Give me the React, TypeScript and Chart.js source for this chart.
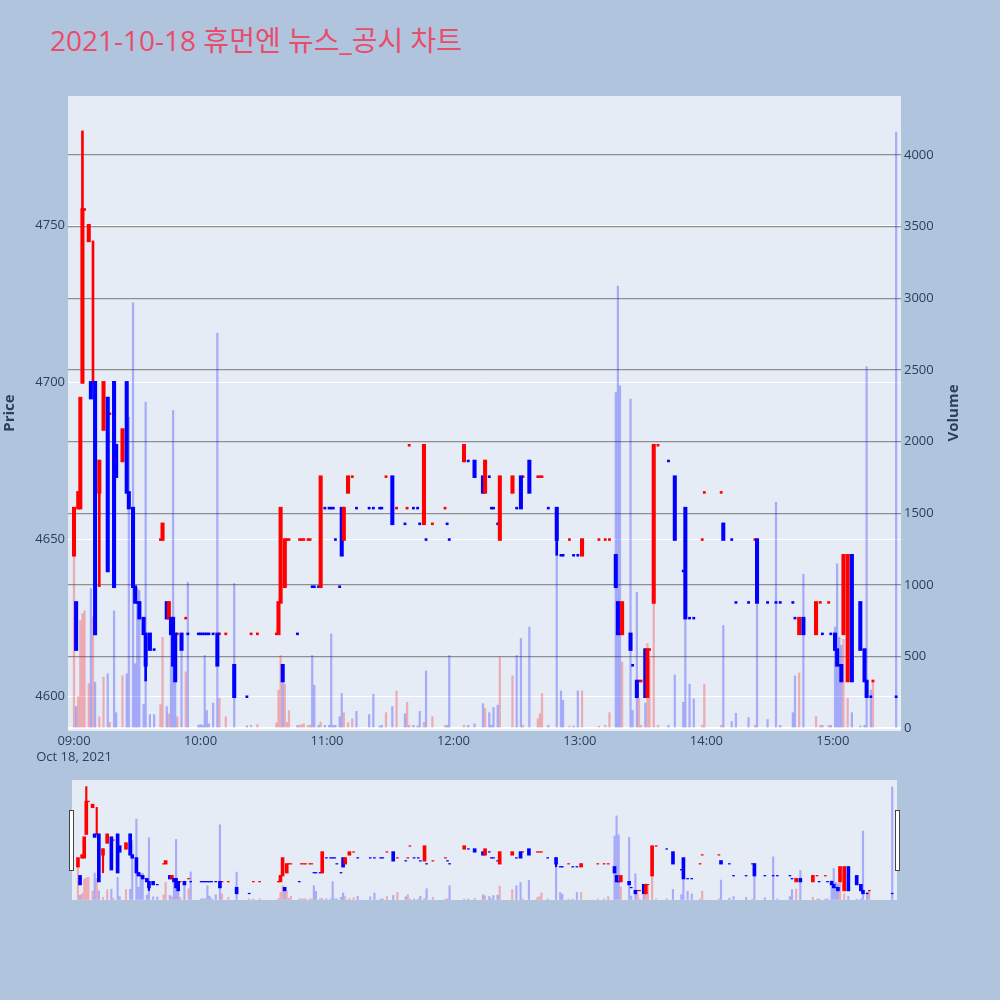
import React, { useEffect, useRef } from "react";
import { Chart, registerables } from "chart.js";

Chart.register(...registerables);

const TITLE = "2021-10-18 휴먼엔 뉴스_공시 차트";
const DATE_LABEL = "Oct 18, 2021";
const TIME_TICKS = [0, 60, 120, 180, 240, 300, 360];
const TIME_LABELS = ["09:00", "10:00", "11:00", "12:00", "13:00", "14:00", "15:00"];
const PRICE_TICKS = [4600, 4650, 4700, 4750];
const VOLUME_TICKS = [0, 500, 1000, 1500, 2000, 2500, 3000, 3500, 4000];

// minutes after 09:00
const minutes = [
  0, 1, 2, 3, 4, 5, 7, 8, 9, 10,
  12, 14, 16, 17, 19, 20, 23, 25, 26, 28,
  29, 30, 31, 33, 34, 36, 38, 41, 42, 44,
  45, 46, 47, 48, 49, 51, 53, 54, 59, 60,
  61, 62, 63, 64, 66, 68, 69, 72, 76, 82,
  84, 87, 96, 97, 98, 99, 100, 101, 102, 106,
  107, 108, 109, 111, 112, 113, 114, 116, 117, 119,
  121, 122, 123, 124, 126, 127, 128, 130, 132, 134,
  140, 142, 145, 146, 148, 151, 153, 157, 158, 159,
  161, 163, 164, 166, 167, 170, 176, 177, 178, 185,
  187, 190, 194, 195, 197, 198, 199, 201, 202, 208,
  210, 212, 213, 216, 220, 221, 222, 225, 229, 231,
  232, 235, 237, 239, 241, 249, 252, 254, 257, 258,
  259, 260, 264, 265, 267, 268, 269, 271, 272, 273,
  275, 277, 282, 285, 289, 290, 292, 294, 298, 299,
  307, 308, 312, 314, 320, 323, 324, 329, 333, 335,
  341, 342, 344, 346, 352, 354, 355, 358, 359, 361,
  362, 363, 364, 365, 367, 369, 373, 375, 376, 378,
  379, 390,
];

const opens = [
  4645, 4630, 4660, 4660, 4700, 4755, 4745, 4700, 4700, 4700,
  4665, 4685, 4695, 4690, 4700, 4680, 4675, 4700, 4665, 4660,
  4635, 4630, 4630, 4625, 4620, 4620, 4615, 4650, 4650, 4630,
  4625, 4625, 4625, 4620, 4620, 4620, 4625, 4620, 4620, 4620,
  4620, 4620, 4620, 4620, 4620, 4620, 4620, 4620, 4610, 4600,
  4620, 4620, 4620, 4620, 4630, 4610, 4635, 4650, 4650, 4620,
  4650, 4650, 4650, 4650, 4650, 4635, 4635, 4635, 4635, 4660,
  4660, 4660, 4660, 4650, 4635, 4660, 4650, 4665, 4670, 4660,
  4660, 4660, 4660, 4660, 4670, 4670, 4660, 4655, 4660, 4680,
  4660, 4660, 4655, 4655, 4650, 4655, 4660, 4655, 4650, 4675,
  4675, 4675, 4670, 4665, 4670, 4660, 4660, 4655, 4650, 4665,
  4660, 4670, 4670, 4675, 4670, 4670, 4670, 4660, 4660, 4645,
  4645, 4650, 4645, 4645, 4645, 4650, 4650, 4650, 4645, 4630,
  4620, 4620, 4620, 4610, 4605, 4605, 4605, 4615, 4600, 4615,
  4630, 4680, 4675, 4670, 4640, 4660, 4625, 4625, 4650, 4665,
  4665, 4655, 4650, 4630, 4630, 4650, 4650, 4630, 4630, 4630,
  4630, 4625, 4620, 4625, 4620, 4630, 4620, 4630, 4620, 4620,
  4615, 4610, 4610, 4620, 4605, 4645, 4630, 4615, 4605, 4600,
  4605, 4600,
];

const closes = [
  4660, 4615, 4665, 4695, 4755, 4755, 4750, 4695, 4700, 4620,
  4675, 4700, 4640, 4690, 4635, 4670, 4685, 4665, 4660, 4635,
  4630, 4630, 4625, 4620, 4610, 4615, 4615, 4650, 4655, 4625,
  4630, 4620, 4610, 4605, 4620, 4615, 4625, 4620, 4620, 4620,
  4620, 4620, 4620, 4620, 4620, 4610, 4620, 4620, 4600, 4600,
  4620, 4620, 4620, 4630, 4660, 4605, 4650, 4650, 4650, 4620,
  4650, 4650, 4650, 4650, 4650, 4635, 4635, 4635, 4670, 4660,
  4660, 4660, 4660, 4650, 4635, 4645, 4660, 4670, 4670, 4660,
  4660, 4660, 4660, 4660, 4670, 4655, 4660, 4655, 4660, 4680,
  4660, 4660, 4655, 4680, 4650, 4655, 4660, 4655, 4650, 4680,
  4675, 4670, 4665, 4675, 4670, 4660, 4660, 4655, 4670, 4670,
  4660, 4660, 4670, 4665, 4670, 4670, 4670, 4660, 4650, 4645,
  4645, 4650, 4645, 4645, 4650, 4650, 4650, 4650, 4635, 4620,
  4620, 4630, 4615, 4610, 4600, 4605, 4605, 4600, 4615, 4615,
  4680, 4680, 4675, 4650, 4640, 4625, 4625, 4625, 4650, 4665,
  4665, 4650, 4650, 4630, 4630, 4650, 4630, 4630, 4630, 4630,
  4630, 4625, 4625, 4620, 4630, 4630, 4620, 4630, 4620, 4615,
  4610, 4610, 4605, 4645, 4645, 4605, 4615, 4605, 4600, 4600,
  4605, 4600,
];

const highs = [
  4660, 4630, 4665, 4695, 4780, 4755, 4750, 4700, 4745, 4700,
  4675, 4700, 4695, 4690, 4700, 4680, 4685, 4700, 4665, 4660,
  4635, 4630, 4630, 4625, 4620, 4620, 4615, 4650, 4655, 4630,
  4630, 4625, 4625, 4620, 4620, 4620, 4625, 4620, 4620, 4620,
  4620, 4620, 4620, 4620, 4620, 4620, 4620, 4620, 4610, 4600,
  4620, 4620, 4620, 4630, 4660, 4610, 4650, 4650, 4650, 4620,
  4650, 4650, 4650, 4650, 4650, 4635, 4635, 4635, 4670, 4660,
  4660, 4660, 4660, 4650, 4635, 4660, 4660, 4670, 4670, 4660,
  4660, 4660, 4660, 4660, 4670, 4670, 4660, 4655, 4660, 4680,
  4660, 4660, 4655, 4680, 4650, 4655, 4660, 4655, 4650, 4680,
  4675, 4675, 4670, 4675, 4670, 4660, 4660, 4655, 4670, 4670,
  4660, 4670, 4670, 4675, 4670, 4670, 4670, 4660, 4660, 4645,
  4645, 4650, 4645, 4645, 4650, 4650, 4650, 4650, 4645, 4630,
  4620, 4630, 4620, 4610, 4605, 4605, 4605, 4615, 4615, 4615,
  4680, 4680, 4675, 4670, 4640, 4660, 4625, 4625, 4650, 4665,
  4665, 4655, 4650, 4630, 4630, 4650, 4650, 4630, 4630, 4630,
  4630, 4625, 4625, 4625, 4630, 4630, 4620, 4630, 4620, 4620,
  4615, 4610, 4610, 4645, 4645, 4645, 4630, 4615, 4605, 4600,
  4605, 4600,
];

const lows = [
  4645, 4615, 4660, 4660, 4700, 4755, 4745, 4695, 4700, 4620,
  4635, 4685, 4640, 4690, 4635, 4670, 4675, 4665, 4660, 4635,
  4630, 4630, 4625, 4620, 4605, 4615, 4615, 4650, 4650, 4625,
  4625, 4620, 4610, 4605, 4620, 4615, 4625, 4620, 4620, 4620,
  4620, 4620, 4620, 4620, 4620, 4610, 4620, 4620, 4600, 4600,
  4620, 4620, 4620, 4620, 4630, 4605, 4635, 4650, 4650, 4620,
  4650, 4650, 4650, 4650, 4650, 4635, 4635, 4635, 4635, 4660,
  4660, 4660, 4660, 4650, 4635, 4645, 4650, 4665, 4670, 4660,
  4660, 4660, 4660, 4660, 4670, 4655, 4660, 4655, 4660, 4680,
  4660, 4660, 4655, 4655, 4650, 4655, 4660, 4655, 4650, 4675,
  4675, 4670, 4665, 4665, 4670, 4660, 4660, 4655, 4650, 4665,
  4660, 4660, 4670, 4665, 4670, 4670, 4670, 4660, 4645, 4645,
  4645, 4650, 4645, 4645, 4645, 4650, 4650, 4650, 4635, 4620,
  4620, 4620, 4615, 4610, 4600, 4605, 4605, 4600, 4600, 4615,
  4630, 4680, 4675, 4650, 4640, 4625, 4625, 4625, 4650, 4665,
  4665, 4650, 4650, 4630, 4630, 4650, 4630, 4630, 4630, 4630,
  4630, 4625, 4620, 4620, 4620, 4630, 4620, 4630, 4620, 4615,
  4610, 4610, 4605, 4620, 4605, 4605, 4615, 4605, 4600, 4600,
  4605, 4600,
];

const volumes = [
  1300, 150, 220, 750, 800, 820, 310, 975, 776, 320,
  80, 356, 379, 40, 819, 108, 365, 379, 2170, 2968,
  450, 975, 961, 165, 2275, 94, 94, 165, 634, 150,
  100, 696, 2216, 465, 80, 535, 393, 1017, 20, 25,
  20, 507, 123, 30, 174, 2757, 208, 80, 1009, 17,
  20, 25, 37, 265, 507, 416, 308, 40, 123, 20,
  20, 25, 31, 20, 20, 507, 300, 20, 43, 20,
  20, 657, 20, 20, 80, 242, 108, 37, 65, 117,
  94, 237, 15, 20, 108, 151, 260, 100, 180, 20,
  20, 15, 117, 40, 399, 80, 20, 20, 507, 20,
  20, 30, 171, 137, 108, 20, 145, 160, 493, 365,
  507, 626, 20, 705, 65, 100, 242, 20, 1300, 260,
  194, 15, 15, 260, 260, 15, 20, 108, 2342, 3084,
  2389, 461, 2296, 125, 948, 209, 20, 174, 591, 484,
  878, 20, 20, 371, 181, 770, 307, 204, 20, 307,
  20, 716, 46, 104, 74, 20, 875, 60, 1576, 20,
  108, 365, 385, 1074, 80, 20, 20, 20, 20, 705,
  1146, 634, 578, 620, 208, 108, 15, 20, 2523, 265,
  336, 4160,
];

const X_MIN = -2.85;
const X_MAX = 392.3;
const P_MIN = 4589.1;
const P_MAX = 4791.1;
const V_MIN = -20;
const V_MAX = 4411;

const UP = "#ff0000";
const DOWN = "#0000ff";
const UP_VOL = "rgba(255,0,0,0.27)";
const DOWN_VOL = "rgba(0,0,255,0.27)";
const TEXT = "#2a3f5f";
const PLOT_BG = "#E5ECF6";
const PAGE_BG = "#B0C4DE";
const FONT = '"Open Sans", "Noto Sans CJK KR", sans-serif';

function directions(): boolean[] {
  const out: boolean[] = [];
  let prevClose = NaN;
  let prevUp = true;
  for (let i = 0; i < minutes.length; i++) {
    const o = opens[i];
    const c = closes[i];
    let up: boolean;
    if (c > o) up = true;
    else if (c < o) up = false;
    else if (isNaN(prevClose)) up = true;
    else if (c > prevClose) up = true;
    else if (c < prevClose) up = false;
    else up = prevUp;
    out.push(up);
    prevUp = up;
    prevClose = c;
  }
  return out;
}

function buildDatasets(bodyW: number, dojiW: number, wickW: number, volW: number, pad: number): any[] {
  const up = directions();
  const all = minutes.map((_, i) => i);
  const bodyIdx = all.filter((i) => opens[i] !== closes[i]);
  const dojiIdx = all.filter((i) => opens[i] === closes[i]);
  const wickIdx = all.filter(
    (i) => highs[i] > Math.max(opens[i], closes[i]) || lows[i] < Math.min(opens[i], closes[i])
  );
  const range = (i: number) => [Math.min(opens[i], closes[i]) - pad, Math.max(opens[i], closes[i]) + pad];
  return [
    {
      type: "bar",
      label: "Volume",
      data: all.map((i) => ({ x: minutes[i], y: volumes[i] })),
      xAxisID: "x",
      yAxisID: "yv",
      backgroundColor: all.map((i) => (up[i] ? UP_VOL : DOWN_VOL)),
      barThickness: volW,
      grouped: false,
      order: 4,
    },
    {
      type: "bar",
      label: "Wick",
      data: wickIdx.map((i) => ({ x: minutes[i], y: [lows[i], highs[i]] })),
      xAxisID: "x",
      yAxisID: "y",
      backgroundColor: wickIdx.map((i) => (up[i] ? UP : DOWN)),
      barThickness: wickW,
      grouped: false,
      order: 3,
    },
    {
      type: "bar",
      label: "Doji",
      data: dojiIdx.map((i) => ({ x: minutes[i], y: range(i) })),
      xAxisID: "x",
      yAxisID: "y",
      backgroundColor: dojiIdx.map((i) => (up[i] ? UP : DOWN)),
      barThickness: dojiW,
      grouped: false,
      order: 2,
    },
    {
      type: "bar",
      label: "Price",
      data: bodyIdx.map((i) => ({ x: minutes[i], y: range(i) })),
      xAxisID: "x",
      yAxisID: "y",
      backgroundColor: bodyIdx.map((i) => (up[i] ? UP : DOWN)),
      barThickness: bodyW,
      grouped: false,
      order: 1,
    },
  ];
}

const bgPlugin = {
  id: "plotBg",
  beforeDraw(chart: any) {
    const { ctx, chartArea } = chart;
    ctx.save();
    ctx.fillStyle = PLOT_BG;
    ctx.fillRect(chartArea.left, chartArea.top, chartArea.right - chartArea.left, chartArea.bottom - chartArea.top);
    ctx.restore();
  },
};

const axisTitlePlugin = {
  id: "axisTitles",
  afterDraw(chart: any) {
    const { ctx } = chart;
    const draw = (text: string, x: number, y: number) => {
      ctx.save();
      ctx.fillStyle = TEXT;
      ctx.font = `bold 15px ${FONT}`;
      ctx.textAlign = "center";
      ctx.textBaseline = "middle";
      ctx.translate(x, y);
      ctx.rotate(-Math.PI / 2);
      ctx.fillText(text, 0, 0);
      ctx.restore();
    };
    draw("Price", 10, 413);
    draw("Volume", 954, 413);
  },
};

const handlePlugin = {
  id: "sliderHandles",
  afterDraw(chart: any) {
    const { ctx } = chart;
    ctx.save();
    ctx.fillStyle = "#ffffff";
    ctx.strokeStyle = "#444444";
    ctx.lineWidth = 1;
    ctx.fillRect(69.5, 30.5, 4, 60);
    ctx.strokeRect(69.5, 30.5, 4, 60);
    ctx.fillRect(895.5, 30.5, 4, 60);
    ctx.strokeRect(895.5, 30.5, 4, 60);
    ctx.restore();
  },
};

export default function App() {
  const mainRef = useRef<HTMLCanvasElement | null>(null);
  const sliderRef = useRef<HTMLCanvasElement | null>(null);

  useEffect(() => {
    if (!mainRef.current || !sliderRef.current) return;
    Chart.defaults.font.family = FONT;
    Chart.defaults.color = TEXT;

    const main = new Chart(mainRef.current, {
      type: "bar",
      data: { datasets: buildDatasets(3.4, 2.2, 2, 1.6, 0.3) },
      options: {
        animation: false,
        responsive: false,
        devicePixelRatio: 1,
        layout: { padding: { top: 96, left: 0, right: 0, bottom: 0 } },
        plugins: { legend: { display: false }, tooltip: { enabled: false }, title: { display: false } },
        scales: {
          x: {
            type: "linear",
            min: X_MIN,
            max: X_MAX,
            offset: false,
            grid: { display: false, drawTicks: false },
            border: { display: false },
            afterBuildTicks: (s: any) => {
              s.ticks = TIME_TICKS.map((v) => ({ value: v }));
            },
            afterFit: (s: any) => {
              s.height = 39;
            },
            ticks: {
              autoSkip: false,
              maxRotation: 0,
              minRotation: 0,
              padding: 2,
              color: TEXT,
              font: { size: 13, family: FONT, lineHeight: 1.25 },
              callback: (value: any) => {
                const i = TIME_TICKS.indexOf(Number(value));
                if (i === 0) return [TIME_LABELS[0], DATE_LABEL];
                return i >= 0 ? TIME_LABELS[i] : "";
              },
            },
          },
          y: {
            type: "linear",
            position: "left",
            min: P_MIN,
            max: P_MAX,
            grid: { color: "#ffffff", lineWidth: 1, drawTicks: false },
            border: { display: false },
            afterBuildTicks: (s: any) => {
              s.ticks = PRICE_TICKS.map((v) => ({ value: v }));
            },
            afterFit: (s: any) => {
              s.width = 68;
            },
            ticks: { padding: 3, color: TEXT, font: { size: 13, family: FONT }, callback: (v: any) => String(v) },
          },
          yv: {
            type: "linear",
            position: "right",
            min: V_MIN,
            max: V_MAX,
            grid: {
              color: (c: any) => (c.tick && c.tick.value === 0 ? "#ffffff" : "#8f8f8f"),
              lineWidth: (c: any) => (c.tick && c.tick.value === 0 ? 2 : 1.3),
              drawTicks: false,
            },
            border: { display: false },
            afterBuildTicks: (s: any) => {
              s.ticks = VOLUME_TICKS.map((v) => ({ value: v }));
            },
            afterFit: (s: any) => {
              s.width = 99;
            },
            ticks: { padding: 3, color: TEXT, font: { size: 13, family: FONT }, callback: (v: any) => String(v) },
          },
        },
      } as any,
      plugins: [bgPlugin, axisTitlePlugin],
    });

    const slider = new Chart(sliderRef.current, {
      type: "bar",
      data: { datasets: buildDatasets(3, 2, 1.5, 1.5, 0.5) },
      options: {
        animation: false,
        responsive: false,
        devicePixelRatio: 1,
        layout: { padding: { top: 0, left: 72, right: 103, bottom: 1 } },
        plugins: { legend: { display: false }, tooltip: { enabled: false } },
        scales: {
          x: { type: "linear", min: X_MIN, max: X_MAX, offset: false, display: false },
          y: { type: "linear", min: P_MIN, max: P_MAX, display: false },
          yv: { type: "linear", min: V_MIN, max: V_MAX, display: false },
        },
      } as any,
      plugins: [bgPlugin, handlePlugin],
    });

    return () => {
      main.destroy();
      slider.destroy();
    };
  }, []);

  return (
    <div
      style={{
        position: "absolute",
        left: 0,
        top: 0,
        width: 1000,
        height: 1000,
        background: PAGE_BG,
        overflow: "hidden",
      }}
    >
      <div
        style={{
          position: "absolute",
          left: 50,
          top: 21,
          fontFamily: FONT,
          fontSize: 28,
          lineHeight: "38px",
          color: "#E84D6A",
          whiteSpace: "nowrap",
        }}
      >
        {TITLE}
      </div>
      <canvas
        ref={mainRef}
        width={1000}
        height={770}
        style={{ position: "absolute", left: 0, top: 0, width: 1000, height: 770 }}
      />
      <canvas
        ref={sliderRef}
        width={1000}
        height={121}
        style={{ position: "absolute", left: 0, top: 780, width: 1000, height: 121 }}
      />
    </div>
  );
}
